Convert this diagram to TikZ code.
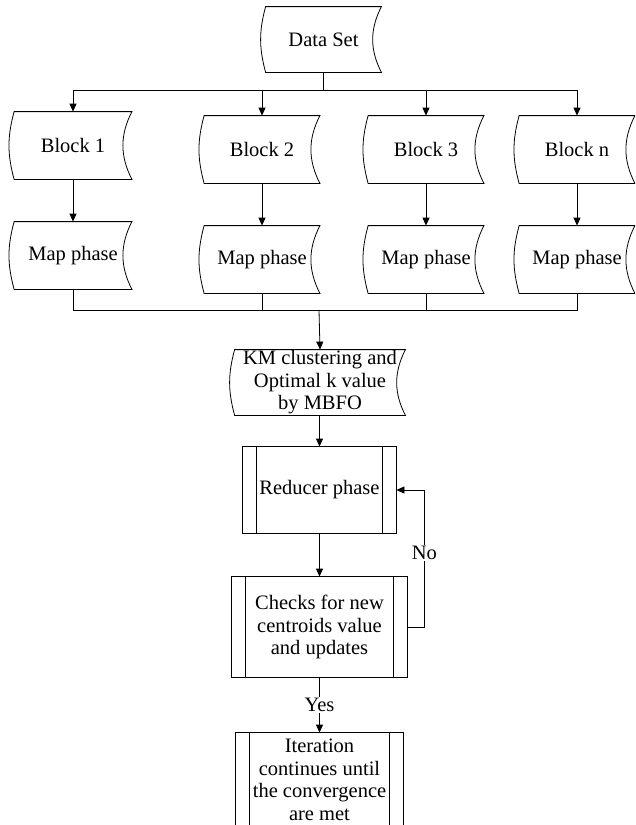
\documentclass[tikz,border=0pt]{standalone}
\usepackage{fontspec}
\setmainfont{Liberation Serif}
\usetikzlibrary{arrows.meta}

\begin{document}
\begin{tikzpicture}[x=1pt, y=-1pt, line width=0.8pt,
	every node/.style={font=\fontsize{20.5}{22.5}\selectfont, align=center, inner sep=0pt},
	arrow/.style={-{Triangle[length=8pt,width=7pt]}},
	stored/.style={minimum width=#1, minimum height=67pt},
	process/.style={minimum width=#1}]
	% Page frame (picture is cut at the bottom and at the right)
	\clip (0,0) rectangle (635,825);
	
	% Data set and the blocks
	\node[stored=115pt, minimum height=65pt] (data) at (323.5,39.5) {Data Set};
	\node[stored=117pt] (blk1) at (73,145.5) {Block 1};
	\node[stored=115pt] (blk2) at (262,149.5) {Block 2};
	\node[stored=115pt] (blk3) at (426,149.5) {Block 3};
	\node[stored=115pt] (blkn) at (577,149.5) {Block n};
	
	% Map phases
	\node[stored=117pt] (map1) at (73,255.5) {Map phase};
	\node[stored=115pt] (map2) at (262,259.5) {Map phase};
	\node[stored=115pt] (map3) at (426,259.5) {Map phase};
	\node[stored=115pt] (mapn) at (577,259.5) {Map phase};
	
	% Clustering
	\node[stored=170pt, minimum height=65pt] (km) at (320,382.5) {KM clustering and\\Optimal k value\\by MBFO};
	
	% Reducer, check and iteration
	\node[process=153pt, minimum height=86pt] (reducer) at (319.5,490) {Reducer phase};
	\node[process=175pt, minimum height=100pt] (check) at (319.5,627) {Checks for new\\centroids value\\and updates};
	\node[process=167pt, minimum height=94pt] (iter) at (319.5,780) {Iteration\\continues until\\the convergence\\are met};
	
	% Outlines of the stored data shapes
	\foreach \n in {data,blk1,blk2,blk3,blkn,map1,map2,map3,mapn,km}
		\draw (\n.north west) -- (\n.north east) to[bend right=27] (\n.south east)
			-- (\n.south west) to[bend left=15] cycle;
	
	% Outlines of the process boxes
	\foreach \n in {reducer,check,iter}
		\draw (\n.north west) rectangle (\n.south east)
			([xshift=14pt]\n.north west) -- ([xshift=14pt]\n.south west)
			([xshift=-14pt]\n.north east) -- ([xshift=-14pt]\n.south east);
	
	% Split the data set
	\draw (data.south) -- ++(0,18) coordinate (split);
	\foreach \n in {blk1,blk2,blk3,blkn}
		\draw[arrow] (split) -| (\n.north);
	
	% Blocks to map phases
	\draw[arrow] (blk1) -- (map1);
	\draw[arrow] (blk2) -- (map2);
	\draw[arrow] (blk3) -- (map3);
	\draw[arrow] (blkn) -- (mapn);
	
	% Merge the map phases
	\coordinate (merge) at (319,310);
	\foreach \n in {map1,map2,map3,mapn}
		\draw (\n.south) |- (merge);
	\draw[arrow] (merge) -- (km.north);
	
	% Reducer loop
	\draw[arrow] (km.south -| reducer.north) -- (reducer.north);
	\draw[arrow] (reducer) -- (check);
	\draw[arrow] (check.east) -- ++(17,0) |- node[pos=0.27, fill=white, inner sep=1pt] {No} (reducer.east);
	\draw[arrow] (check) -- node[fill=white, inner sep=1pt] {Yes} (iter);
\end{tikzpicture}
\end{document}
